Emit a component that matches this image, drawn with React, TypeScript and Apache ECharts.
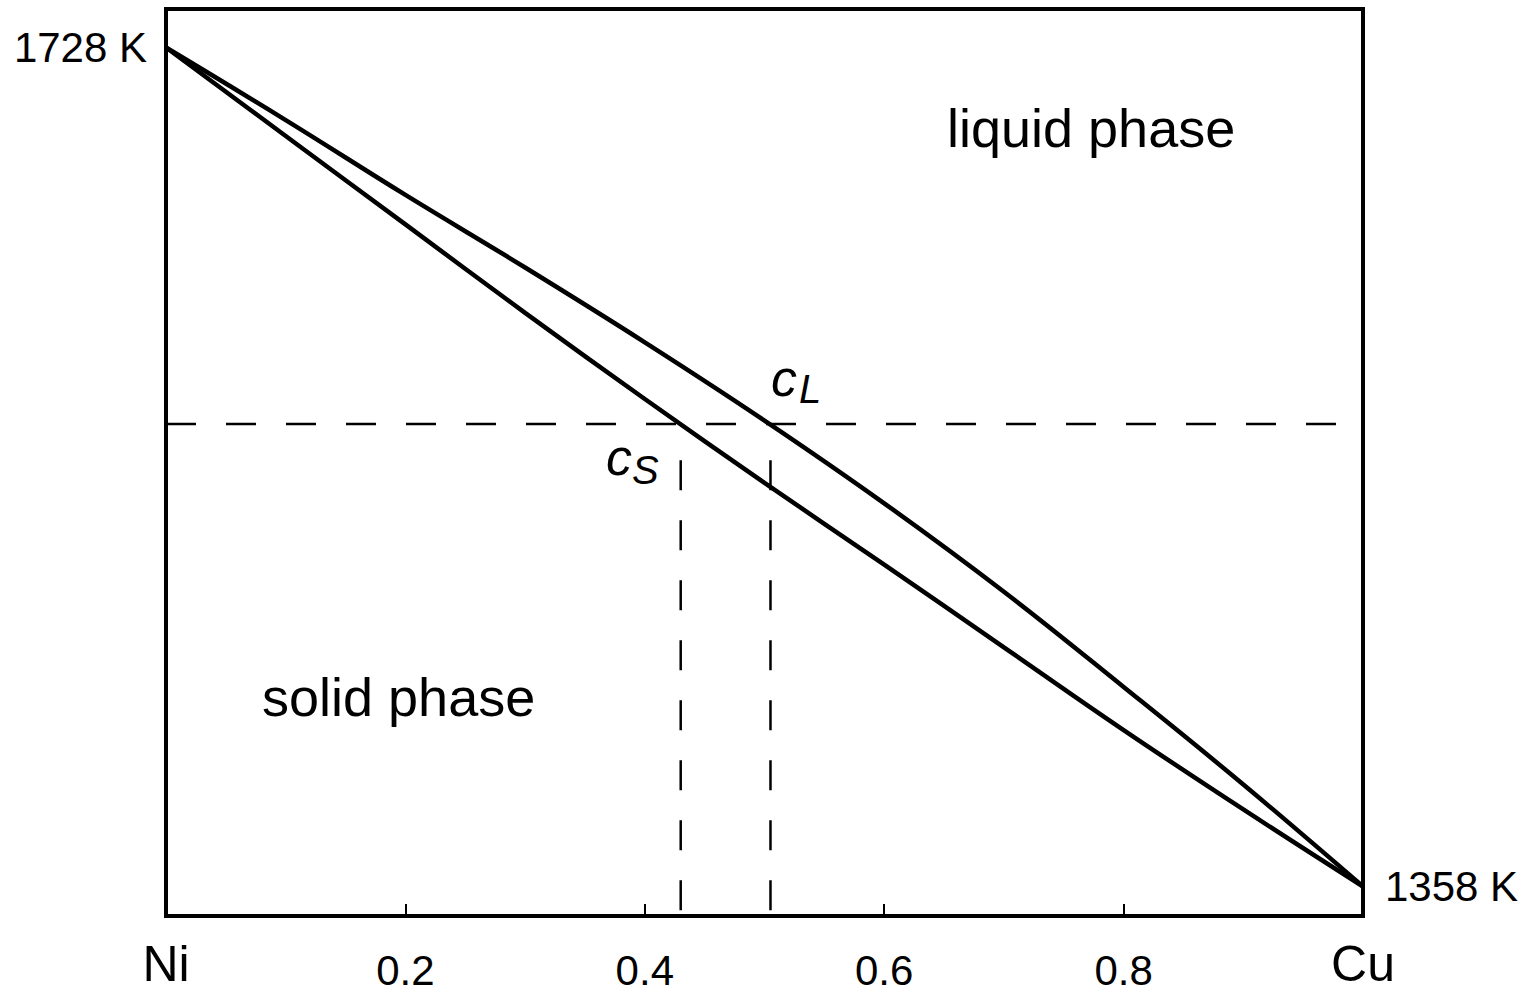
import React, { useEffect, useRef } from "react";
import * as echarts from "echarts";

// Composition (mole fraction of Cu) and temperatures (K)
const composition = [0, 0.1, 0.2, 0.3, 0.4, 0.5, 0.6, 0.7, 0.8, 0.9, 1.0];
const liquidus = [1728, 1696, 1663, 1631, 1598, 1563.5, 1527, 1488, 1446, 1403, 1358];
const solidus = [1728, 1689, 1650, 1611, 1573, 1536, 1500, 1463.5, 1427, 1392, 1358];

const xTickValues = [0, 0.2, 0.4, 0.6, 0.8, 1];
const xTickLabels = ["Ni", "0.2", "0.4", "0.6", "0.8", "Cu"];
const xMinorTicks = [0.2, 0.4, 0.6, 0.8];

const tMin = 1345;
const tMax = 1745;
const tNi = 1728;
const tCu = 1358;

const tieLineT = 1562;
const cS = 0.43;
const cL = 0.505;
const dropTopT = 1546;

const FONT = "'Liberation Sans', Arial, Helvetica, sans-serif";

export default function App() {
  const ref = useRef<HTMLDivElement>(null);

  useEffect(() => {
    if (!ref.current) return;
    const chart = echarts.init(ref.current, null, { renderer: "svg" });

    const pairs = (ys: number[]) => composition.map((x, i) => [x, ys[i]]);
    const kLabel = (v: number) => String(v) + " K";

    const option: any = {
      animation: false,
      backgroundColor: "#ffffff",
      grid: {
        left: 166,
        right: 163,
        top: 9,
        bottom: 78,
        show: true,
        borderColor: "#000",
        borderWidth: 4,
        backgroundColor: "transparent",
      },
      xAxis: {
        type: "value",
        min: 0,
        max: 1,
        splitLine: { show: false },
        axisLine: { show: false },
        axisTick: {
          show: true,
          inside: true,
          length: 12,
          customValues: xMinorTicks,
          lineStyle: { color: "#000", width: 2 },
        },
        axisLabel: {
          show: true,
          customValues: xTickValues,
          margin: 39,
          fontSize: 42,
          lineHeight: 30,
          fontFamily: FONT,
          color: "#000",
          formatter: (v: number) => {
            const idx = xTickValues.findIndex((t) => Math.abs(t - v) < 1e-9);
            const lab = idx >= 0 ? xTickLabels[idx] : "";
            if (idx === 0 || idx === xTickValues.length - 1) return "{big|" + lab + "}";
            return lab;
          },
          rich: {
            big: { fontSize: 50, lineHeight: 18, fontFamily: FONT, color: "#000" },
          },
        },
      },
      yAxis: [
        {
          type: "value",
          min: tMin,
          max: tMax,
          position: "left",
          splitLine: { show: false },
          axisLine: { show: false },
          axisTick: { show: false },
          axisLabel: {
            customValues: [tNi],
            margin: 19,
            fontSize: 42,
            fontFamily: FONT,
            color: "#000",
            formatter: kLabel,
          },
        },
        {
          type: "value",
          min: tMin,
          max: tMax,
          position: "right",
          splitLine: { show: false },
          axisLine: { show: false },
          axisTick: { show: false },
          axisLabel: {
            customValues: [tCu],
            margin: 22,
            fontSize: 42,
            fontFamily: FONT,
            color: "#000",
            formatter: kLabel,
          },
        },
      ],
      series: [
        {
          name: "liquidus",
          type: "line",
          data: pairs(liquidus),
          smooth: 0.4,
          showSymbol: false,
          lineStyle: { color: "#000", width: 4.5 },
          z: 3,
        },
        {
          name: "solidus",
          type: "line",
          data: pairs(solidus),
          smooth: 0.4,
          showSymbol: false,
          lineStyle: { color: "#000", width: 4.5 },
          z: 3,
        },
        {
          name: "tie line",
          type: "line",
          data: [
            [0, tieLineT],
            [1, tieLineT],
          ],
          showSymbol: false,
          lineStyle: { color: "#000", width: 2.5, type: [30, 30] },
          z: 2,
        },
        {
          name: "cS drop",
          type: "line",
          data: [
            [cS, dropTopT],
            [cS, tMin],
          ],
          showSymbol: false,
          lineStyle: { color: "#000", width: 2.5, type: [30, 30] },
          z: 2,
        },
        {
          name: "cL drop",
          type: "line",
          data: [
            [cL, dropTopT],
            [cL, tMin],
          ],
          showSymbol: false,
          lineStyle: { color: "#000", width: 2.5, type: [30, 30] },
          z: 2,
        },
      ],
      graphic: [
        {
          type: "text",
          left: 947,
          top: 101,
          style: { text: "liquid phase", fontSize: 54, fontFamily: FONT, fill: "#000" },
        },
        {
          type: "text",
          left: 262,
          top: 670,
          style: { text: "solid phase", fontSize: 54, fontFamily: FONT, fill: "#000" },
        },
        {
          type: "text",
          x: 771,
          y: 378,
          style: {
            text: "c",
            fontSize: 52,
            fontStyle: "italic",
            fontFamily: FONT,
            fill: "#000",
            verticalAlign: "middle",
            align: "left",
          },
        },
        {
          type: "text",
          x: 799,
          y: 389,
          style: {
            text: "L",
            fontSize: 40,
            fontStyle: "italic",
            fontFamily: FONT,
            fill: "#000",
            verticalAlign: "middle",
            align: "left",
          },
        },
        {
          type: "text",
          x: 606,
          y: 457,
          style: {
            text: "c",
            fontSize: 52,
            fontStyle: "italic",
            fontFamily: FONT,
            fill: "#000",
            verticalAlign: "middle",
            align: "left",
          },
        },
        {
          type: "text",
          x: 632,
          y: 470,
          style: {
            text: "S",
            fontSize: 40,
            fontStyle: "italic",
            fontFamily: FONT,
            fill: "#000",
            verticalAlign: "middle",
            align: "left",
          },
        },
      ],
    };

    chart.setOption(option);
    return () => chart.dispose();
  }, []);

  return (
    <div
      ref={ref}
      style={{ position: "fixed", left: 0, top: 0, width: 1526, height: 994, background: "#fff" }}
    />
  );
}
